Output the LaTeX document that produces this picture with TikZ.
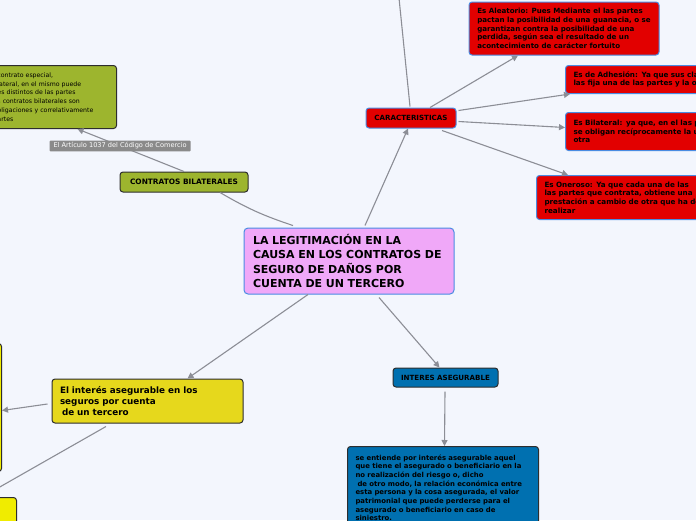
\documentclass[tikz,border=0pt]{standalone}
\usepackage{fontspec}
\setmainfont{DejaVu Sans}
\usepackage{tikz}
\usetikzlibrary{arrows.meta,positioning}
\usepackage{xcolor}
\definecolor{bgpaper}{RGB}{243,246,253}
\definecolor{mmpink}{RGB}{240,168,248}
\definecolor{mmred}{RGB}{226,0,0}
\definecolor{mmolive}{RGB}{157,181,46}
\definecolor{mmyellow}{RGB}{230,216,28}
\definecolor{mmlemon}{RGB}{240,236,0}
\definecolor{mmblue}{RGB}{0,112,176}
\definecolor{edgeblue}{RGB}{74,140,226}
\definecolor{edgedark}{RGB}{45,45,45}
\definecolor{lnk}{RGB}{140,142,150}
\definecolor{tagray}{RGB}{138,138,138}

\begin{document}
\begin{tikzpicture}[
  x=1pt, y=-1pt,
  box/.style={line width=1pt, rounded corners=3pt, align=left,
              inner xsep=8pt, inner ysep=0pt,
              font=\bfseries\fontsize{7.2}{8.6}\selectfont},
  redbox/.style={box, draw=edgeblue, fill=mmred},
  olivebox/.style={box, draw=edgedark, fill=mmolive},
  yelbox/.style={box, draw=edgedark, fill=mmyellow},
  capbox/.style={box, align=center, inner xsep=0pt,
                 font=\bfseries\fontsize{7.1}{8}\selectfont},
  tag/.style={fill=tagray, text=white, rounded corners=1pt,
              inner xsep=4pt, inner ysep=2pt,
              font=\fontsize{6.6}{7}\selectfont},
  lnkline/.style={draw=lnk, line width=1.1pt},
  arr/.style={lnkline, -{Triangle[length=6pt,width=6pt]}}
]
\useasboundingbox (0,0) rectangle (696,520);
\fill[bgpaper] (0,0) rectangle (696,520);
\clip (0,0) rectangle (696,520);

% centre
\node[box, draw=edgeblue, fill=mmpink, rounded corners=4pt,
      inner xsep=9pt, text width=192pt, minimum height=66pt,
      font=\bfseries\fontsize{11}{14.5}\selectfont] (legit) at (349,261)
  {LA LEGITIMACIÓN EN LA\\CAUSA EN LOS CONTRATOS DE\\SEGURO DE DAÑOS POR\\CUENTA DE UN TERCERO};

% caracteristicas branch
\node[capbox, redbox, inner xsep=0pt, minimum width=90pt, minimum height=20pt,
      font=\bfseries\fontsize{7.1}{8}\selectfont] (carac) at (411,118) {CARACTERISTICAS};
\node[redbox, inner xsep=0pt, minimum width=190pt, minimum height=53pt,
      font=\bfseries\fontsize{7.1}{8.6}\selectfont] (aleat) at (564,28.5)
  {Es Aleatorio: Pues Mediante el las partes\\pactan la posibilidad de una guanacia, o se\\garantizan contra la posibilidad de una\\perdida, según sea el resultado de un\\acontecimiento de carácter fortuito};
\node[redbox, anchor=north west, text width=184pt, minimum height=28pt] (adhes) at (565,65)
  {Es de Adhesión: Ya que sus clausulas\\las fija una de las partes y la otra};
\node[redbox, anchor=north west, text width=184pt, minimum height=38pt] (bilat) at (565,112)
  {Es Bilateral: ya que, en el las partes\\se obligan recíprocamente la una a la\\otra};
\node[redbox, anchor=north west, text width=174pt, minimum height=44pt] (oner) at (536,175)
  {Es Oneroso: Ya que cada una de las\\las partes que contrata, obtiene una\\prestación a cambio de otra que ha de\\realizar};
\coordinate (caracup) at (399,-2);

% contratos bilaterales branch
\node[capbox, olivebox, inner xsep=0pt, minimum width=128pt, minimum height=20pt,
      font=\bfseries\fontsize{7.4}{8}\selectfont] (contr) at (184,182) {CONTRATOS BILATERALES};
\node[olivebox, anchor=north west, inner xsep=3pt, text width=116pt,
      minimum height=63pt, font=\fontsize{6.2}{8.8}\selectfont] (contrdef) at (-6,65)
  {contrato especial,\\lateral, en el mismo puede\\es distintos de las partes\\s contratos bilaterales son\\bligaciones y correlativamente\\artes};

% interes asegurable branch
\node[capbox, box, draw=edgedark, fill=mmblue, inner xsep=0pt, minimum width=105pt,
      minimum height=19pt, font=\bfseries\fontsize{7.1}{8}\selectfont] (intas) at (445.5,377.5) {INTERES ASEGURABLE};
\node[box, draw=edgedark, fill=mmblue, anchor=north west, text width=175pt,
      inner ysep=8pt, font=\bfseries\fontsize{6.9}{8.7}\selectfont] (intasdef) at (347,446)
  {se entiende por interés asegurable aquel\\que tiene el asegurado o beneficiario en la\\no realización del riesgo o, dicho\\\hspace*{2pt}de otro modo, la relación económica entre\\esta persona y la cosa asegurada, el valor\\patrimonial que puede perderse para el\\asegurado o beneficiario en caso de\\siniestro.};

% tercero branch
\node[yelbox, text width=175pt, minimum height=44pt,
      font=\bfseries\fontsize{8.8}{10.6}\selectfont] (terc) at (147.5,401)
  {El interés asegurable en los\\seguros por cuenta\\\hspace*{2pt}de un tercero};
\node[yelbox, fill=mmlemon, anchor=north east, minimum width=30pt, minimum height=128pt] (tercleft) at (2,343) {};
\node[yelbox, fill=mmlemon, anchor=north east, minimum width=40pt, minimum height=40pt] (tercbot) at (17,497) {};
\coordinate (tercoff) at (-2,488);

% connectors
\draw[arr] ([xshift=16pt,yshift=2pt]legit.north) -- ([xshift=-3pt]carac.south);
\draw[lnkline] ([xshift=-56pt,yshift=2pt]legit.north) to[bend left=6] ([xshift=36pt]contr.south);
\draw[arr] ([xshift=-41pt]legit.south) -- ([xshift=40pt]terc.north);
\draw[arr] ([xshift=30pt,yshift=-3pt]legit.south) -- ([xshift=-6pt]intas.north);
\draw[arr] ([xshift=-0.5pt,yshift=-4pt]intas.south) -- ([xshift=1.5pt]intasdef.north);

\draw[lnkline] ([xshift=-1pt,yshift=1pt]carac.north) -- (caracup);
\draw[arr] ([xshift=19pt]carac.north) -- ([xshift=-46pt]aleat.south);
\draw[arr] ([xshift=2pt,yshift=-3pt]carac.north east) -- ([xshift=5pt]adhes.south west);
\draw[arr] ([xshift=2pt,yshift=-14pt]carac.north east) -- ([yshift=4pt]bilat.west);
\draw[arr] ([xshift=31pt,yshift=-2pt]carac.south) -- ([xshift=32pt]oner.north west);

\draw[arr] (contr.north) -- ([xshift=22pt]contrdef.south)
  node[tag, pos=0.6] (art) {El Artículo 1037 del Código de Comercio};

\draw[arr] ([xshift=-4pt,yshift=-3pt]terc.west) -- ([yshift=-3pt]tercleft.east);
\draw[lnkline] ([xshift=-41.5pt,yshift=-3pt]terc.south) -- (tercoff);
\end{tikzpicture}
\end{document}
